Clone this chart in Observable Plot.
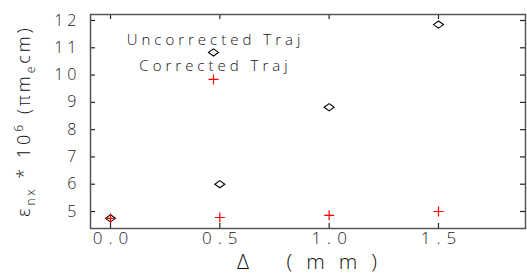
<!DOCTYPE html>
<html><head><meta charset="utf-8">
<script src="https://cdn.jsdelivr.net/npm/d3@7"></script>
<script src="https://cdn.jsdelivr.net/npm/@observablehq/plot@0.6"></script>
<style>
body{margin:0;background:#fff}
#chart svg{overflow:visible}
g[aria-label="x-axis tick label"] text{letter-spacing:6px}
g[aria-label="y-axis tick label"] text{letter-spacing:4px}
</style></head><body><div id="chart"></div>
<script>
// data
const deltas = [0.0, 0.5, 1.0, 1.5];
const uncorrected = [4.75, 6.0, 8.82, 11.85];
const corrected = [4.75, 4.78, 4.86, 5.0];
const xTicks = [0.0, 0.5, 1.0, 1.5];
const yTicks = [5, 6, 7, 8, 9, 10, 11, 12];
const legendLabels = ["Uncorrected Traj", "Corrected Traj"];
const xTitle = "Δ (mm)";

const W = 527, H = 276;
const mL = 90, mR = 2, mT = 14, mB = 48;
const innerW = W - mL - mR, innerH = H - mT - mB;
const font = "'Open Sans', 'DejaVu Sans', sans-serif";

const diamondSym = {draw(ctx){const w=5,h=3.6;ctx.moveTo(-w,0);ctx.lineTo(0,-h);ctx.lineTo(w,0);ctx.lineTo(0,h);ctx.closePath();}};
const plusSym = {draw(ctx){ctx.moveTo(-5,0);ctx.lineTo(5,0);ctx.moveTo(0,-5);ctx.lineTo(0,5);}};

// legend anchor (data coordinates)
const legX = 0.471;
const unc = deltas.map((d,i)=>({x:d, y:uncorrected[i]})).concat([{x: legX, y: 10.83}]);
const cor = deltas.map((d,i)=>({x:d, y:corrected[i]})).concat([{x: legX, y: 9.84}]);
const legText = [{label: legendLabels[0], y: 11.27}, {label: legendLabels[1], y: 10.31}];
const tickLen = 5;

const chart = Plot.plot({
  width: W, height: H,
  marginLeft: mL, marginRight: mR, marginTop: mT, marginBottom: mB,
  style: {fontFamily: font, background: "#fff", color: "#222"},
  x: {domain: [-0.0915, 1.898], ticks: xTicks, tickFormat: d3.format(".1f"), label: null},
  y: {domain: [4.377, 12.22], ticks: yTicks, label: null},
  marks: [
    Plot.axisX(xTicks, {tickSize: 0, tickPadding: 3, fontSize: 17, fontWeight: 300, tickFormat: d3.format(".1f"), dx: 3}),
    Plot.axisY(yTicks, {tickSize: 0, tickPadding: 14, fontSize: 16, fontWeight: 300, dx: 4}),
    Plot.ruleX(xTicks, {x: d=>d, insetTop: innerH - tickLen, stroke: "#222", strokeWidth: 1.2}),
    Plot.ruleX(xTicks, {x: d=>d, insetBottom: innerH - tickLen, stroke: "#222", strokeWidth: 1.2}),
    Plot.ruleY(yTicks, {y: d=>d, insetRight: innerW - tickLen, stroke: "#222", strokeWidth: 1.2}),
    Plot.ruleY(yTicks, {y: d=>d, insetLeft: innerW - tickLen, stroke: "#222", strokeWidth: 1.2}),
    Plot.frame({stroke: "#555", strokeWidth: 1.5}),
    Plot.dot(unc, {x: "x", y: "y", symbol: diamondSym, stroke: "#000", fill: "none", strokeWidth: 1.1}),
    Plot.dot(cor, {x: "x", y: "y", symbol: plusSym, stroke: "red", fill: "none", strokeWidth: 1.2}),
    Plot.text(legText, {x: () => legX, y: "y", text: "label", fontSize: 15, fontWeight: 300, fill: "#111", dx: 2}),
    Plot.text([xTitle], {frameAnchor: "bottom", dy: 40, text: d=>d, fontSize: 21, fontWeight: 300, fill: "#111", dx: 6})
  ]
});
document.getElementById("chart").appendChild(chart);

d3.select(chart).selectAll('g[aria-label="text"] text').filter(function(){return this.textContent===xTitle;}).style("letter-spacing","14px").style("word-spacing","4px");
d3.select(chart).selectAll('g[aria-label="text"] text').filter(function(){return legendLabels.includes(this.textContent);}).style("letter-spacing","4px");

// rotated y-axis title with sub/superscripts
const yl = d3.select(chart).append("text")
  .attr("transform", `translate(30,${mT + innerH/2}) rotate(-90)`)
  .attr("text-anchor", "middle")
  .attr("font-family", font).attr("font-weight", 300)
  .attr("font-size", 18).attr("fill", "#111")
  .style("letter-spacing", "3px");
yl.append("tspan").text("ε");
yl.append("tspan").attr("font-size", 12).attr("dy", 5).text("nx");
yl.append("tspan").attr("dy", -5).text(" * 10");
yl.append("tspan").attr("font-size", 12).attr("dy", -7).text("6");
yl.append("tspan").attr("dy", 7).text(" (πm");
yl.append("tspan").attr("font-size", 12).attr("dy", 5).text("e");
yl.append("tspan").attr("dy", -5).text("cm)");
</script></body></html>
